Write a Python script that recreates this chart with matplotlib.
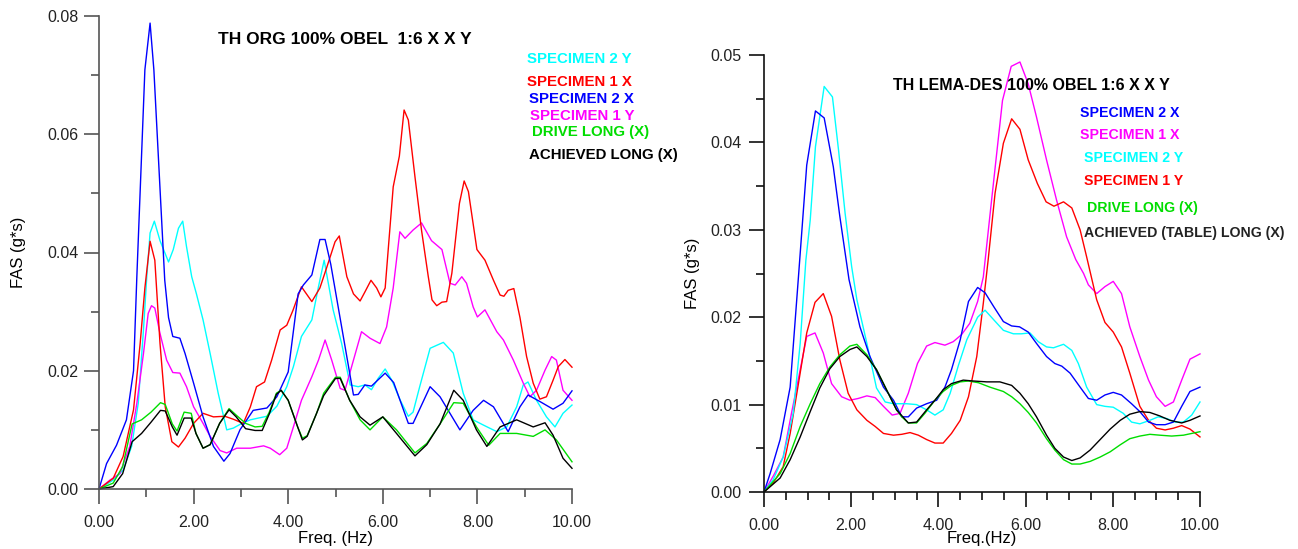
import matplotlib
matplotlib.use("Agg")
import matplotlib.pyplot as plt
from matplotlib.ticker import MultipleLocator, FormatStrFormatter

plt.rcParams['font.family'] = ['Liberation Sans', 'DejaVu Sans']

# ---------------- Left panel: TH ORG ----------------
l_s1x_f = [0, 0.3, 0.51, 0.73, 0.87, 0.97, 1.08, 1.18, 1.29, 1.4, 1.54, 1.68, 1.82, 2.0, 2.2, 2.42, 2.66,
           2.84, 3.05, 3.2, 3.33, 3.5, 3.65, 3.83, 3.97, 4.1, 4.28, 4.5, 4.67, 4.82, 4.99, 5.08, 5.24, 5.38,
           5.52, 5.62, 5.75, 5.87, 5.96, 6.05, 6.22, 6.35, 6.45, 6.54, 6.68, 6.82, 6.96, 7.04, 7.14, 7.25,
           7.35, 7.46, 7.62, 7.72, 7.81, 7.99, 8.16, 8.34, 8.48, 8.56, 8.65, 8.77, 8.9, 9.04, 9.18, 9.32,
           9.46, 9.6, 9.71, 9.85, 10.0]
l_s1x_v = [0, 0.0018, 0.0055, 0.0134, 0.0246, 0.034, 0.0419, 0.0387, 0.0246, 0.0139, 0.008, 0.0071, 0.0086,
           0.0111, 0.0128, 0.0122, 0.0123, 0.0118, 0.0111, 0.0139, 0.0173, 0.0181, 0.0218, 0.0269, 0.0277,
           0.0302, 0.0342, 0.0317, 0.034, 0.0376, 0.0418, 0.0428, 0.0359, 0.033, 0.0318, 0.0333, 0.0353,
           0.034, 0.0325, 0.034, 0.0511, 0.0563, 0.0641, 0.0624, 0.0528, 0.0437, 0.036, 0.032, 0.031,
           0.0316, 0.0317, 0.0365, 0.0483, 0.0521, 0.0503, 0.0405, 0.0387, 0.0353, 0.0328, 0.0326, 0.0336,
           0.0339, 0.029, 0.0224, 0.0179, 0.0152, 0.0156, 0.0184, 0.0207, 0.0219, 0.0206]

l_s2x_f = [0, 0.16, 0.37, 0.58, 0.73, 0.8, 0.97, 1.08, 1.16, 1.39, 1.47, 1.56, 1.71, 1.82, 2.0, 2.2, 2.42,
           2.64, 2.77, 2.98, 3.26, 3.55, 3.76, 4.0, 4.21, 4.32, 4.5, 4.67, 4.78, 4.9, 5.38, 5.48, 5.62, 5.76,
           6.05, 6.23, 6.54, 6.64, 7.0, 7.21, 7.63, 7.91, 8.13, 8.34, 8.65, 8.9, 9.07, 9.32, 9.6, 9.81, 10.0]
l_s2x_v = [0, 0.0043, 0.0074, 0.0117, 0.02, 0.0359, 0.0709, 0.0788, 0.0709, 0.0353, 0.029, 0.0258, 0.0255,
           0.0229, 0.0179, 0.0122, 0.0072, 0.0047, 0.006, 0.01, 0.0133, 0.0137, 0.0156, 0.0198, 0.033, 0.0345,
           0.0362, 0.0422, 0.0422, 0.038, 0.0159, 0.016, 0.0176, 0.0174, 0.0196, 0.018, 0.0111, 0.0111,
           0.0173, 0.0156, 0.01, 0.0133, 0.015, 0.0139, 0.0097, 0.0139, 0.0159, 0.0148, 0.0135, 0.0145, 0.0166]

l_s2y_f = [0, 0.3, 0.51, 0.69, 0.83, 0.94, 1.01, 1.08, 1.17, 1.29, 1.47, 1.57, 1.68, 1.77, 1.85, 1.96, 2.06,
           2.2, 2.35, 2.52, 2.7, 2.84, 3.02, 3.2, 3.37, 3.55, 3.76, 3.97, 4.11, 4.28, 4.5, 4.64, 4.76, 4.95,
           5.13, 5.31, 5.48, 5.62, 5.76, 5.9, 6.05, 6.19, 6.37, 6.54, 6.64, 6.78, 7.0, 7.28, 7.49, 7.7, 7.91,
           8.13, 8.41, 8.62, 8.83, 8.97, 9.07, 9.25, 9.46, 9.64, 9.81, 10.0]
l_s2y_v = [0, 0.0015, 0.0032, 0.0072, 0.0145, 0.0269, 0.0359, 0.0433, 0.0453, 0.042, 0.0384, 0.0405, 0.0441,
           0.0453, 0.041, 0.0359, 0.033, 0.0286, 0.0229, 0.0162, 0.01, 0.0103, 0.0111, 0.0117, 0.012, 0.0123,
           0.014, 0.0173, 0.0207, 0.0258, 0.0286, 0.0342, 0.0387, 0.0303, 0.0246, 0.0176, 0.0173, 0.0176,
           0.0168, 0.0187, 0.0203, 0.0184, 0.015, 0.0123, 0.013, 0.0173, 0.0238, 0.0248, 0.023, 0.0162,
           0.0117, 0.0108, 0.0097, 0.0105, 0.0139, 0.0176, 0.0181, 0.015, 0.0122, 0.0105, 0.0128, 0.0142]

l_s1y_f = [0, 0.23, 0.44, 0.65, 0.8, 0.94, 1.04, 1.11, 1.18, 1.29, 1.43, 1.56, 1.71, 1.85, 2.0, 2.2, 2.35,
           2.56, 2.7, 2.91, 3.2, 3.48, 3.62, 3.82, 3.97, 4.11, 4.28, 4.5, 4.64, 4.78, 4.92, 5.1, 5.2, 5.38,
           5.55, 5.73, 5.94, 6.08, 6.22, 6.36, 6.47, 6.64, 6.82, 7.03, 7.25, 7.42, 7.53, 7.67, 7.77, 7.91,
           8.0, 8.16, 8.41, 8.55, 8.76, 8.97, 9.11, 9.25, 9.43, 9.57, 9.67, 9.81, 10.0]
l_s1y_v = [0, 0.0015, 0.0026, 0.0072, 0.0145, 0.0229, 0.0297, 0.031, 0.0306, 0.0263, 0.0218, 0.0197, 0.0196,
           0.0173, 0.0139, 0.0111, 0.0089, 0.0065, 0.0061, 0.0069, 0.0069, 0.0073, 0.0069, 0.0058, 0.0069,
           0.0105, 0.015, 0.019, 0.0218, 0.0252, 0.0218, 0.017, 0.0167, 0.0218, 0.0266, 0.0255, 0.0246,
           0.0274, 0.034, 0.0435, 0.0424, 0.0438, 0.045, 0.042, 0.0405, 0.0348, 0.0345, 0.0359, 0.0348,
           0.0308, 0.0291, 0.0303, 0.0266, 0.0252, 0.0218, 0.0179, 0.0156, 0.0167, 0.0201, 0.0224, 0.0218,
           0.0167, 0.015]

l_drv_f = [0, 0.3, 0.5, 0.7, 0.9, 1.1, 1.3, 1.4, 1.55, 1.65, 1.8, 1.95, 2.05, 2.2, 2.35, 2.55, 2.75, 2.9,
           3.1, 3.3, 3.45, 3.6, 3.75, 3.85, 4.0, 4.2, 4.3, 4.4, 4.6, 4.75, 5.0, 5.1, 5.3, 5.52, 5.73, 6.0,
           6.29, 6.68, 6.93, 7.21, 7.5, 7.7, 7.98, 8.24, 8.48, 8.83, 9.18, 9.43, 9.67, 10.0]
l_drv_v = [0, 0.001, 0.0038, 0.011, 0.0117, 0.013, 0.0146, 0.0143, 0.011, 0.0098, 0.013, 0.0128, 0.0094,
           0.0069, 0.0075, 0.0111, 0.0136, 0.0125, 0.0111, 0.0105, 0.0106, 0.013, 0.0162, 0.0167, 0.015,
           0.0105, 0.0086, 0.009, 0.0128, 0.0162, 0.0189, 0.0189, 0.015, 0.0117, 0.01, 0.0122, 0.01, 0.0061,
           0.0077, 0.011, 0.0146, 0.0145, 0.0105, 0.0074, 0.0094, 0.0094, 0.0089, 0.01, 0.0083, 0.0046]

l_ach_f = [0, 0.3, 0.5, 0.7, 0.9, 1.1, 1.3, 1.4, 1.55, 1.65, 1.8, 1.95, 2.05, 2.2, 2.35, 2.55, 2.75, 2.9,
           3.1, 3.3, 3.45, 3.6, 3.75, 3.85, 4.0, 4.2, 4.3, 4.4, 4.6, 4.75, 5.0, 5.1, 5.3, 5.52, 5.73, 6.0,
           6.29, 6.68, 6.93, 7.21, 7.5, 7.7, 7.98, 8.2, 8.48, 8.83, 9.18, 9.43, 9.6, 9.81, 10.0]
l_ach_v = [0, 0.0004, 0.0026, 0.008, 0.0094, 0.0113, 0.0133, 0.0132, 0.0105, 0.0091, 0.012, 0.012, 0.0094,
           0.0069, 0.0075, 0.0111, 0.0134, 0.0122, 0.0102, 0.0099, 0.0099, 0.0127, 0.016, 0.0167, 0.015,
           0.0105, 0.0083, 0.0089, 0.0128, 0.0158, 0.0187, 0.0187, 0.015, 0.0122, 0.0108, 0.0122, 0.0094,
           0.0056, 0.0075, 0.011, 0.0167, 0.015, 0.01, 0.0072, 0.0105, 0.0117, 0.0105, 0.0112, 0.0091,
           0.0052, 0.0035]

# ---------------- Right panel: TH LEMA-DES ----------------
r_s2x_f = [0, 0.14, 0.37, 0.6, 0.79, 0.98, 1.18, 1.38, 1.59, 1.74, 1.95, 2.2, 2.43, 2.74, 2.97, 3.16, 3.31,
           3.5, 3.73, 3.96, 4.15, 4.3, 4.5, 4.69, 4.9, 5.07, 5.27, 5.49, 5.68, 5.86, 6.06, 6.25, 6.48, 6.67,
           6.83, 7.02, 7.25, 7.44, 7.63, 7.82, 8.01, 8.2, 8.43, 8.62, 8.82, 9.0, 9.2, 9.39, 9.58, 9.77, 10.0]
r_s2x_v = [0, 0.0021, 0.006, 0.012, 0.0246, 0.0374, 0.0436, 0.0428, 0.0372, 0.0315, 0.0243, 0.0189, 0.0155,
           0.012, 0.0105, 0.0086, 0.0086, 0.0096, 0.0101, 0.0105, 0.012, 0.014, 0.0174, 0.0218, 0.0234,
           0.0228, 0.0212, 0.0195, 0.019, 0.0189, 0.0183, 0.017, 0.0155, 0.0147, 0.0144, 0.0136, 0.012,
           0.0107, 0.0105, 0.0111, 0.0114, 0.0111, 0.0101, 0.0092, 0.008, 0.0077, 0.0077, 0.008, 0.0098,
           0.0115, 0.012]

r_s1x_f = [0, 0.21, 0.44, 0.63, 0.83, 0.98, 1.17, 1.36, 1.55, 1.78, 1.97, 2.16, 2.36, 2.55, 2.74, 2.94, 3.12,
           3.31, 3.52, 3.73, 3.92, 4.15, 4.34, 4.53, 4.72, 4.9, 5.03, 5.22, 5.47, 5.67, 5.87, 6.06, 6.25,
           6.48, 6.71, 6.94, 7.15, 7.33, 7.44, 7.63, 7.82, 8.01, 8.2, 8.39, 8.62, 8.82, 9.0, 9.2, 9.39, 9.58,
           9.77, 10.0]
r_s1x_v = [0, 0.0018, 0.004, 0.009, 0.014, 0.0178, 0.0182, 0.0159, 0.0124, 0.0109, 0.0105, 0.0107, 0.011,
           0.0108, 0.0098, 0.0088, 0.009, 0.0113, 0.0147, 0.0167, 0.0171, 0.0168, 0.0172, 0.018, 0.0193,
           0.0218, 0.0246, 0.0334, 0.0448, 0.0487, 0.0492, 0.0467, 0.0429, 0.038, 0.0334, 0.0292, 0.0266,
           0.025, 0.0237, 0.0227, 0.0235, 0.0241, 0.0227, 0.0189, 0.0155, 0.0128, 0.0109, 0.0098, 0.0103,
           0.0128, 0.0152, 0.0158]

r_s2y_f = [0, 0.21, 0.44, 0.67, 0.83, 0.96, 1.06, 1.18, 1.38, 1.57, 1.71, 1.86, 2.01, 2.13, 2.36, 2.58, 2.78,
           2.97, 3.27, 3.5, 3.73, 3.92, 4.11, 4.27, 4.46, 4.65, 4.9, 5.07, 5.27, 5.49, 5.72, 5.9, 6.1, 6.29,
           6.48, 6.64, 6.87, 7.06, 7.21, 7.4, 7.63, 7.82, 8.01, 8.24, 8.43, 8.62, 8.85, 9.04, 9.24, 9.43,
           9.62, 9.81, 10.0]
r_s2y_v = [0, 0.0014, 0.004, 0.009, 0.017, 0.0265, 0.0311, 0.0395, 0.0464, 0.0452, 0.0391, 0.0319, 0.0258,
           0.022, 0.017, 0.0119, 0.0103, 0.0101, 0.0101, 0.01, 0.0094, 0.0088, 0.0094, 0.0113, 0.0145,
           0.0174, 0.02, 0.0208, 0.0197, 0.0185, 0.0181, 0.0181, 0.0182, 0.0172, 0.0166, 0.0165, 0.0169,
           0.0162, 0.0147, 0.012, 0.01, 0.0098, 0.0097, 0.009, 0.008, 0.0078, 0.0082, 0.0086, 0.0084, 0.008,
           0.008, 0.0088, 0.0103]

r_s1y_f = [0, 0.21, 0.44, 0.6, 0.79, 0.98, 1.17, 1.36, 1.55, 1.74, 1.93, 2.13, 2.36, 2.55, 2.74, 2.97, 3.16,
           3.35, 3.54, 3.73, 3.92, 4.11, 4.3, 4.5, 4.69, 4.88, 5.03, 5.14, 5.3, 5.49, 5.68, 5.87, 6.06, 6.27,
           6.47, 6.65, 6.87, 7.06, 7.25, 7.4, 7.63, 7.82, 8.01, 8.2, 8.39, 8.62, 8.82, 9.0, 9.2, 9.39, 9.58,
           9.77, 10.0]
r_s1y_v = [0, 0.001, 0.0029, 0.0067, 0.0124, 0.0182, 0.0217, 0.0227, 0.0201, 0.0151, 0.0113, 0.0094, 0.0082,
           0.0075, 0.0067, 0.0065, 0.0066, 0.0068, 0.0065, 0.006, 0.0056, 0.0056, 0.0067, 0.0082, 0.0109,
           0.0155, 0.0216, 0.0265, 0.0342, 0.0399, 0.0427, 0.0415, 0.038, 0.0353, 0.0332, 0.0327, 0.0332,
           0.0325, 0.03, 0.0269, 0.022, 0.0194, 0.0183, 0.0166, 0.0136, 0.0098, 0.0082, 0.0073, 0.0071,
           0.0073, 0.0076, 0.0072, 0.0063]

r_drv_f = [0, 0.37, 0.6, 0.83, 1.06, 1.28, 1.51, 1.74, 1.97, 2.13, 2.36, 2.58, 2.81, 3.04, 3.16, 3.31, 3.5,
           3.69, 3.92, 4.11, 4.3, 4.5, 4.69, 4.92, 5.18, 5.49, 5.68, 5.87, 6.06, 6.25, 6.48, 6.67, 6.87, 7.06,
           7.25, 7.48, 7.71, 7.94, 8.17, 8.39, 8.62, 8.85, 9.08, 9.35, 9.62, 9.81, 10.0]
r_drv_v = [0, 0.0021, 0.0044, 0.0075, 0.0101, 0.0124, 0.0143, 0.0157, 0.0167, 0.0169, 0.0157, 0.014, 0.0117,
           0.0094, 0.0086, 0.0079, 0.0079, 0.009, 0.0105, 0.0115, 0.0122, 0.0126, 0.0127, 0.0125, 0.012,
           0.0115, 0.0109, 0.0101, 0.0091, 0.0079, 0.0061, 0.0048, 0.0037, 0.0032, 0.0032, 0.0035, 0.004,
           0.0046, 0.0054, 0.0061, 0.0064, 0.0066, 0.0065, 0.0064, 0.0065, 0.0067, 0.0069]

r_ach_f = [0, 0.37, 0.6, 0.83, 1.06, 1.28, 1.51, 1.74, 1.97, 2.13, 2.36, 2.58, 2.81, 3.04, 3.31, 3.5, 3.73,
           3.92, 4.11, 4.3, 4.57, 4.8, 5.11, 5.41, 5.68, 5.87, 6.06, 6.25, 6.48, 6.67, 6.87, 7.06, 7.25, 7.48,
           7.71, 7.94, 8.17, 8.39, 8.62, 8.85, 9.08, 9.31, 9.58, 9.77, 10.0]
r_ach_v = [0, 0.0016, 0.0037, 0.0063, 0.0092, 0.0119, 0.0141, 0.0155, 0.0163, 0.0166, 0.0155, 0.014, 0.0117,
           0.0094, 0.0079, 0.008, 0.0094, 0.0105, 0.0117, 0.0124, 0.0128, 0.0127, 0.0126, 0.0126, 0.0122,
           0.0113, 0.0101, 0.0086, 0.0065, 0.005, 0.004, 0.0036, 0.0039, 0.0048, 0.006, 0.0072, 0.0082,
           0.0089, 0.0092, 0.0091, 0.0087, 0.0082, 0.0079, 0.0082, 0.0087]

title_left = "TH ORG 100% OBEL  1:6 X X Y"
title_right = "TH LEMA-DES 100% OBEL 1:6 X X Y"
labels_left = ["SPECIMEN 2 Y", "SPECIMEN 1 X", "SPECIMEN 2 X", "SPECIMEN 1 Y", "DRIVE LONG (X)",
               "ACHIEVED LONG (X)"]
labels_right = ["SPECIMEN 2 X", "SPECIMEN 1 X", "SPECIMEN 2 Y", "SPECIMEN 1 Y", "DRIVE LONG (X)",
                "ACHIEVED (TABLE) LONG (X)"]

BLUE, RED, CYAN, MAG, GRN, BLK = '#0000ff', '#ff0000', '#00ffff', '#ff00ff', '#00dd00', '#000000'

W, H = 1298, 549
fig = plt.figure(figsize=(W / 100, H / 100), dpi=100)


def px_axes(x0, y0, x1, y1):
    return fig.add_axes([x0 / W, 1 - y1 / H, (x1 - x0) / W, (y1 - y0) / H])


def ftext(x, y, s, **kw):
    fig.text(x / W, 1 - y / H, s, va='center', ha='left', **kw)


def style(ax, ymax, ymaj, ymin, xmin_step, spine_col):
    ax.set_xlim(0, 10)
    ax.set_ylim(0, ymax)
    for s in ('top', 'right'):
        ax.spines[s].set_visible(False)
    for s in ('left', 'bottom'):
        ax.spines[s].set_color(spine_col)
        ax.spines[s].set_linewidth(1.2)
    ax.xaxis.set_major_locator(MultipleLocator(2))
    ax.xaxis.set_minor_locator(MultipleLocator(xmin_step))
    ax.yaxis.set_major_locator(MultipleLocator(ymaj))
    ax.yaxis.set_minor_locator(MultipleLocator(ymin))
    ax.xaxis.set_major_formatter(FormatStrFormatter('%.2f'))
    ax.yaxis.set_major_formatter(FormatStrFormatter('%.2f'))
    ax.tick_params(which='both', direction='out', colors=spine_col, labelcolor='#222222', labelsize=11.5,
                   width=1.2)
    ax.tick_params(axis='x', which='major', length=11, pad=8)
    ax.tick_params(axis='x', which='minor', length=5.5)
    ax.tick_params(axis='y', which='major', length=11, pad=4)
    ax.tick_params(axis='y', which='minor', length=6)


# Left panel
axl = px_axes(99, 16, 572, 489)
style(axl, 0.08, 0.02, 0.01, 1, '#555555')
for f, v, c in [(l_s2y_f, l_s2y_v, CYAN), (l_s1y_f, l_s1y_v, MAG), (l_s1x_f, l_s1x_v, RED),
                (l_s2x_f, l_s2x_v, BLUE), (l_drv_f, l_drv_v, GRN), (l_ach_f, l_ach_v, BLK)]:
    axl.plot(f, v, color=c, lw=1.0, clip_on=False)
fig.text(18 / W, 1 - 252 / H, "FAS (g*s)", rotation=90, ha='center', va='center', fontsize=12)
fig.text(335 / W, 1 - 538 / H, "Freq. (Hz)", ha='center', va='center', fontsize=12)
ftext(218, 40, title_left, fontsize=12.5, fontweight='bold')
for (y, x), lab, c in zip([(59, 527), (82, 527), (99, 529), (116, 530), (132, 532), (155, 529)],
                          labels_left, [CYAN, RED, BLUE, MAG, GRN, BLK]):
    ftext(x, y, lab, fontsize=10.8, fontweight='bold', color=c)

# Right panel
axr = px_axes(764, 55, 1200, 492)
style(axr, 0.05, 0.01, 0.005, 0.5, '#111111')
for f, v, c in [(r_s1x_f, r_s1x_v, MAG), (r_s1y_f, r_s1y_v, RED), (r_s2y_f, r_s2y_v, CYAN),
                (r_s2x_f, r_s2x_v, BLUE), (r_drv_f, r_drv_v, GRN), (r_ach_f, r_ach_v, BLK)]:
    axr.plot(f, v, color=c, lw=1.0, clip_on=False)
axr.tick_params(axis='y', which='major', length=11, pad=5)
axr.tick_params(axis='y', which='minor', length=5.5)
fig.text(693 / W, 1 - 273 / H, "FAS (g*s)", rotation=90, ha='center', va='center', fontsize=12)
fig.text(982 / W, 1 - 538 / H, "Freq.(Hz)", ha='center', va='center', fontsize=12)
ftext(893, 86, title_right, fontsize=11.5, fontweight='bold')
for (y, x), lab, c in zip([(113, 1080), (135, 1080), (158, 1084), (181, 1084), (208, 1087), (233, 1084)],
                          labels_right, [BLUE, MAG, CYAN, RED, GRN, '#222222']):
    ftext(x, y, lab, fontsize=10.2, fontweight='bold', color=c)

fig.savefig("out.png", dpi=100, facecolor='white')
